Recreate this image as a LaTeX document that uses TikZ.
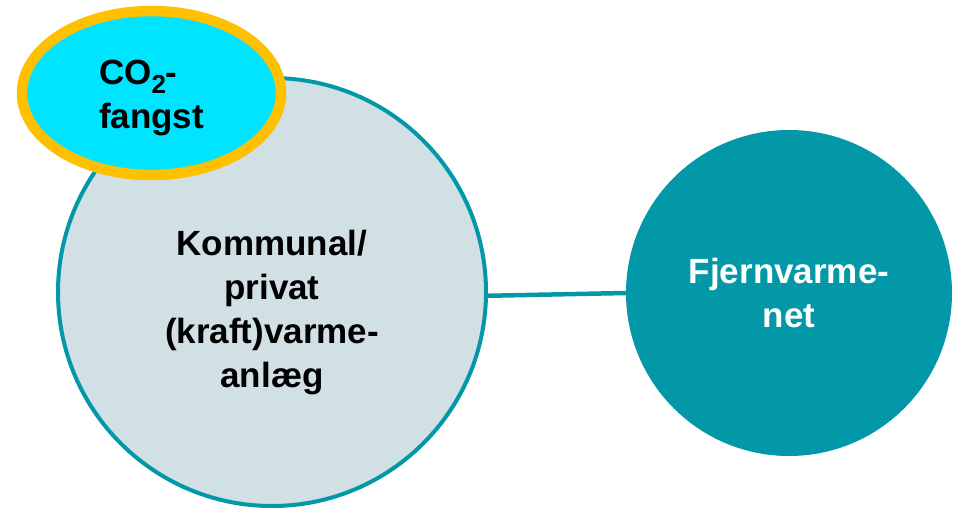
\documentclass[tikz,border=0pt]{standalone}
\usepackage{fontspec}
\setmainfont{Liberation Sans}
\usetikzlibrary{shapes.geometric}
\definecolor{fvteal}{HTML}{0398A8}
\definecolor{fvpale}{HTML}{D1E0E5}
\definecolor{fvcyan}{HTML}{00E5FF}
\definecolor{fvgold}{HTML}{FFC000}
\newcommand{\fvcotwo}{CO\raisebox{-9pt}{\fontsize{26}{26}\selectfont 2}-}

\begin{document}
\begin{tikzpicture}[x={(1pt,0)},y={(0,-1pt)},
	txt/.style={font=\fontsize{35}{44}\selectfont\bfseries,inner sep=0pt},
	plant/.style={circle,txt,align=center,draw=fvteal,line width=4pt,fill=fvpale,minimum size=428pt,text height=190pt,text depth=0pt},
	capture/.style={ellipse,txt,align=left,draw=fvgold,line width=10.5pt,fill=fvcyan,minimum width=259pt,minimum height=164pt,text height=70pt,text depth=0pt},
	grid/.style={circle,txt,align=center,fill=fvteal,text=white,minimum size=326pt},
	link/.style={draw=fvteal,line width=4.5pt}]

\useasboundingbox (0,0) rectangle (955,509);

\begin{scope}
	\node [plant] (plant) at (272,292) {Kommunal/\\privat\\(kraft)varme-\\anlæg};
	\node [capture] (capture) at (151.5,93) {\fvcotwo\\fangst};
	\node [grid] (grid) at (789,293) {Fjernvarme-\\net};
	\draw [link] (plant.-1.3) -- (grid.west);
\end{scope}

\end{tikzpicture}
\end{document}
